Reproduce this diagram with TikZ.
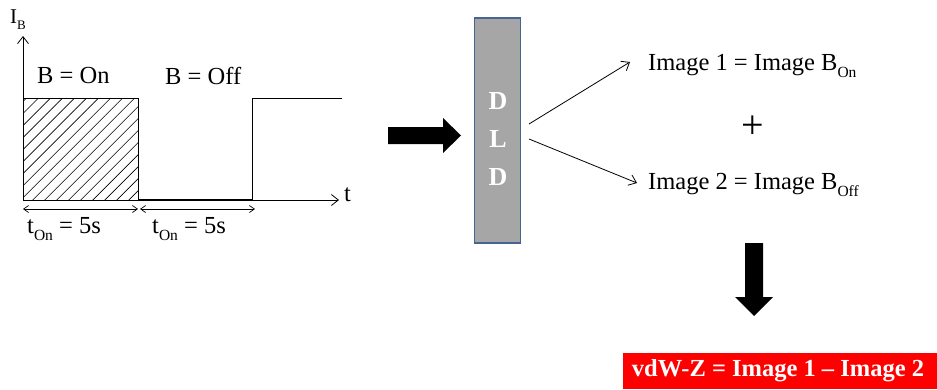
\documentclass[tikz,border=0pt]{standalone}
\usepackage{fontspec}
\setmainfont{Liberation Serif}
\usetikzlibrary{arrows.meta,patterns.meta}
\newcommand{\lowr}[1]{\raisebox{-0.28em}{\fontsize{15.5}{16}\selectfont #1}}
\tikzset{
  x=1pt, y=-1pt,
  txt/.style={inner sep=0pt, font=\fontsize{24.5}{28}\selectfont},
  thin/.style={line width=0.8pt},
  barb/.style={-{Straight Barb[length=7pt,width=11pt]}, line width=0.8pt},
  dbl/.style={{Straight Barb[length=5pt,width=7pt]}-{Straight Barb[length=5pt,width=7pt]}, line width=0.7pt},
  fat/.style={fill=black, draw=none},
  dldtxt/.style={inner sep=0pt, text=white, font=\bfseries\fontsize{26}{28}\selectfont},
}
\begin{document}
\begin{tikzpicture}
\useasboundingbox (0,0) rectangle (937,389);
% axes
\coordinate (o) at (23,200);
\coordinate (ytop) at (23,36);
\coordinate (xend) at (339,200);
\fill[pattern={Lines[angle=45,distance=8.5pt,line width=0.6pt]}] (23,98) rectangle (138,200);
\draw[barb] (o) -- (ytop);
\draw[barb] (o) -- (xend);
\draw[thin] (23,98) -- (138,98) -- (138,200);
\draw[line width=1.4pt] (138,200) -- (252,200);
\draw[thin] (252,200) -- (252,98) -- (342,98);
\node[txt, anchor=west] (t) at (344,195) {t};
\node[inner sep=0pt, font=\fontsize{21}{24}\selectfont, anchor=west] (ib) at (10,20) {I\raisebox{-0.28em}{\fontsize{13}{13}\selectfont B}};
\node[txt, anchor=west] (bon) at (37,76) {B = On};
\node[txt, anchor=west] (boff) at (165,76) {B = Off};
\coordinate (d1a) at (23,209);
\coordinate (d1b) at (138,209);
\coordinate (d2a) at (140,209);
\coordinate (d2b) at (255,209);
\draw[dbl] (d1a) -- (d1b);
\draw[dbl] (d2a) -- (d2b);
\node[txt, anchor=west] (ton1) at (27,229) {t\lowr{On} = 5s};
\node[txt, anchor=west] (ton2) at (152,229) {t\lowr{On} = 5s};
% fat right arrow
\fill[fat] (388,127) -- (443,127) -- (443,118) -- (461,135.5) -- (443,153) -- (443,144) -- (388,144) -- cycle;
% DLD box
\node[draw={rgb,255:red,70;green,100;blue,145}, line width=1.6pt, fill={rgb,255:red,166;green,166;blue,166},
      minimum width=46pt, minimum height=225pt, inner sep=0pt] (dld) at (497.5,130.5) {};
\node[dldtxt] (dd1) at (498,101) {D};
\node[dldtxt] (ll) at (498,139) {L};
\node[dldtxt] (dd2) at (498,177) {D};
% thin arrows
\coordinate (a1s) at (529,124);
\coordinate (a1e) at (630,62);
\coordinate (a2s) at (529,139);
\coordinate (a2e) at (637,183);
\draw[barb] (a1s) -- (a1e);
\draw[barb] (a2s) -- (a2e);
\node[txt, anchor=west] (img1) at (648,66) {Image 1 = Image B\lowr{On}};
\node[inner sep=0pt, font=\fontsize{40}{40}\selectfont] (plus) at (753,127) {+};
\node[txt, anchor=west] (img2) at (648,185) {Image 2 = Image B\lowr{Off}};
% fat down arrow
\fill[fat] (745,243) -- (763,243) -- (763,297) -- (773,297) -- (754,316) -- (735,297) -- (745,297) -- cycle;
% result
\node[fill=red, minimum width=314pt, minimum height=36pt, inner sep=0pt, anchor=north west] (res) at (623,353) {};
\node[inner sep=0pt, text=white, font=\bfseries\fontsize{24.5}{28}\selectfont] (restxt) at (778,371) {vdW-Z = Image 1 -- Image 2};
\end{tikzpicture}
\end{document}
